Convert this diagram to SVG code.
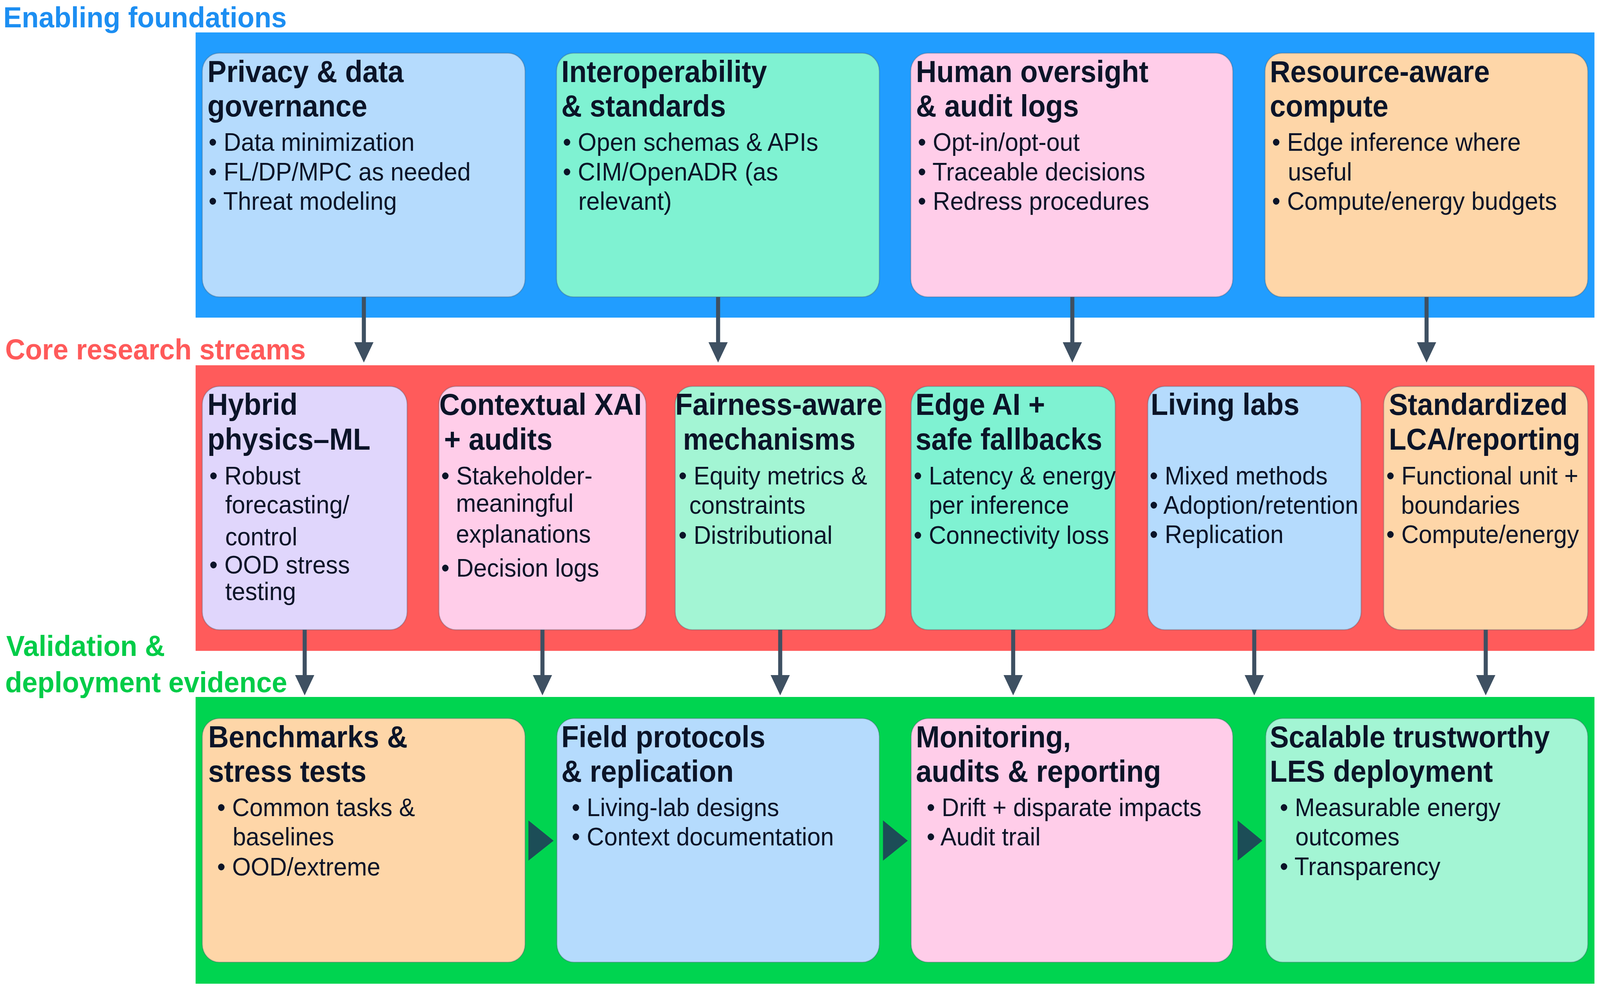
<svg xmlns="http://www.w3.org/2000/svg" width="4327" height="2529" viewBox="0 0 4327 2529">
<style>
.sec{font-family:"Liberation Sans",Arial,sans-serif;font-weight:bold;font-size:75px}
.t{font-family:"Liberation Sans",Arial,sans-serif;font-weight:bold;font-size:77px;fill:#0B1428}
.b{font-family:"Liberation Sans",Arial,sans-serif;font-size:65px;fill:#0B1428}
.box{stroke:#3C5064;stroke-opacity:0.3;stroke-width:3}
.conn{stroke:#3E5062;stroke-width:11;fill:none}
.flow{fill:#1C4D57}
</style>
<defs>
<marker id="ah" markerUnits="userSpaceOnUse" markerWidth="52" markerHeight="52" refX="0" refY="26" orient="auto" viewBox="0 0 52 52">
<path d="M0,0 L52,26 L0,52 z" fill="#3E5062"/>
</marker>
</defs>
<rect width="4327" height="2529" fill="#FFFFFF"/>
<g id="diagram" transform="scale(0.94661,1)">

<g id="bands">
<rect x="529" y="83" width="3783" height="730" fill="#219DFF"/>
<rect x="529" y="935" width="3783" height="731" fill="#FF5B5B"/>
<rect x="529" y="1784" width="3783" height="734" fill="#00D450"/>
</g>

<g id="section-labels">
<text class="sec" x="9" y="70" fill="#1C8EF2">Enabling foundations</text>
<text class="sec" x="14" y="920" fill="#FF5A5A">Core research streams</text>
<text class="sec" x="17" y="1679" fill="#00CC48">Validation &amp;</text>
<text class="sec" x="14" y="1772" fill="#00CC48">deployment evidence</text>
</g>

<g id="node-privacy">
<rect class="box" x="547" y="136" width="873" height="624" rx="46" fill="#B5DBFD"/>
<text class="t" x="561" y="210">Privacy &amp; data</text>
<text class="t" x="561" y="298">governance</text>
<text class="b" x="564" y="386">• Data minimization</text>
<text class="b" x="564" y="462">• FL/DP/MPC as needed</text>
<text class="b" x="564" y="537">• Threat modeling</text>
</g>
<g id="node-interop">
<rect class="box" x="1505" y="136" width="873" height="624" rx="46" fill="#7FF2D2"/>
<text class="t" x="1518" y="210">Interoperability</text>
<text class="t" x="1518" y="298">&amp; standards</text>
<text class="b" x="1522" y="386">• Open schemas &amp; APIs</text>
<text class="b" x="1522" y="462">• CIM/OpenADR (as</text>
<text class="b" x="1564" y="537">relevant)</text>
</g>
<g id="node-oversight">
<rect class="box" x="2463" y="136" width="871" height="624" rx="46" fill="#FFCDE9"/>
<text class="t" x="2477" y="210">Human oversight</text>
<text class="t" x="2477" y="298">&amp; audit logs</text>
<text class="b" x="2482" y="386">• Opt-in/opt-out</text>
<text class="b" x="2482" y="462">• Traceable decisions</text>
<text class="b" x="2482" y="537">• Redress procedures</text>
</g>
<g id="node-compute">
<rect class="box" x="3421" y="136" width="873" height="624" rx="46" fill="#FED6A8"/>
<text class="t" x="3434" y="210">Resource-aware</text>
<text class="t" x="3434" y="298">compute</text>
<text class="b" x="3440" y="386">• Edge inference where</text>
<text class="b" x="3483" y="462">useful</text>
<text class="b" x="3440" y="537">• Compute/energy budgets</text>
</g>

<g id="node-hybrid">
<rect class="box" x="547" y="989" width="554" height="623" rx="46" fill="#E0D6FC"/>
<text class="t" x="561" y="1062">Hybrid</text>
<text class="t" x="561" y="1151">physics–ML</text>
<text class="b" x="566" y="1240">• Robust</text>
<text class="b" x="609" y="1314">forecasting/</text>
<text class="b" x="609" y="1396">control</text>
<text class="b" x="566" y="1468">• OOD stress</text>
<text class="b" x="609" y="1536">testing</text>
</g>
<g id="node-xai">
<rect class="box" x="1187" y="989" width="560" height="623" rx="46" fill="#FFCDE9"/>
<text class="t" x="1188" y="1062">Contextual XAI</text>
<text class="t" x="1201" y="1151">+ audits</text>
<text class="b" x="1193" y="1240">• Stakeholder-</text>
<text class="b" x="1233" y="1310">meaningful</text>
<text class="b" x="1233" y="1389">explanations</text>
<text class="b" x="1193" y="1476">• Decision logs</text>
</g>
<g id="node-fairness">
<rect class="box" x="1826" y="989" width="569" height="623" rx="46" fill="#A3F5D4"/>
<text class="t" x="1826" y="1062">Fairness-aware</text>
<text class="t" x="1847" y="1151">mechanisms</text>
<text class="b" x="1835" y="1240">• Equity metrics &amp;</text>
<text class="b" x="1864" y="1315">constraints</text>
<text class="b" x="1835" y="1392">• Distributional</text>
</g>
<g id="node-edge">
<rect class="box" x="2464" y="989" width="552" height="623" rx="46" fill="#7FF2D2"/>
<text class="t" x="2476" y="1062">Edge AI +</text>
<text class="t" x="2476" y="1151">safe fallbacks</text>
<text class="b" x="2471" y="1240">• Latency &amp; energy</text>
<text class="b" x="2512" y="1315">per inference</text>
<text class="b" x="2471" y="1392">• Connectivity loss</text>
</g>
<g id="node-livinglabs">
<rect class="box" x="3104" y="989" width="577" height="623" rx="46" fill="#B5DBFD"/>
<text class="t" x="3112" y="1062">Living labs</text>
<text class="b" x="3109" y="1240">• Mixed methods</text>
<text class="b" x="3109" y="1315">• Adoption/retention</text>
<text class="b" x="3109" y="1390">• Replication</text>
</g>
<g id="node-lca">
<rect class="box" x="3742" y="989" width="552" height="623" rx="46" fill="#FED6A8"/>
<text class="t" x="3756" y="1062">Standardized</text>
<text class="t" x="3756" y="1151">LCA/reporting</text>
<text class="b" x="3749" y="1240">• Functional unit +</text>
<text class="b" x="3789" y="1315">boundaries</text>
<text class="b" x="3749" y="1390">• Compute/energy</text>
</g>

<g id="node-benchmarks">
<rect class="box" x="547" y="1839" width="873" height="624" rx="46" fill="#FED6A8"/>
<text class="t" x="563" y="1913">Benchmarks &amp;</text>
<text class="t" x="563" y="2001">stress tests</text>
<text class="b" x="587" y="2089">• Common tasks &amp;</text>
<text class="b" x="629" y="2164">baselines</text>
<text class="b" x="587" y="2241">• OOD/extreme</text>
</g>
<g id="node-field">
<rect class="box" x="1506" y="1839" width="872" height="624" rx="46" fill="#B5DBFD"/>
<text class="t" x="1518" y="1913">Field protocols</text>
<text class="t" x="1518" y="2001">&amp; replication</text>
<text class="b" x="1546" y="2089">• Living-lab designs</text>
<text class="b" x="1546" y="2164">• Context documentation</text>
</g>
<g id="node-monitoring">
<rect class="box" x="2464" y="1839" width="870" height="624" rx="46" fill="#FFCDE9"/>
<text class="t" x="2477" y="1913">Monitoring,</text>
<text class="t" x="2477" y="2001">audits &amp; reporting</text>
<text class="b" x="2506" y="2089">• Drift + disparate impacts</text>
<text class="b" x="2506" y="2164">• Audit trail</text>
</g>
<g id="node-deployment">
<rect class="box" x="3423" y="1839" width="871" height="624" rx="46" fill="#A3F5D4"/>
<text class="t" x="3434" y="1913">Scalable trustworthy</text>
<text class="t" x="3434" y="2001">LES deployment</text>
<text class="b" x="3461" y="2089">• Measurable energy</text>
<text class="b" x="3503" y="2164">outcomes</text>
<text class="b" x="3461" y="2240">• Transparency</text>
</g>

<g id="connectors">
<line class="conn" x1="984" y1="760" x2="984" y2="876" marker-end="url(#ah)"/>
<line class="conn" x1="1942" y1="760" x2="1942" y2="876" marker-end="url(#ah)"/>
<line class="conn" x1="2900" y1="760" x2="2900" y2="876" marker-end="url(#ah)"/>
<line class="conn" x1="3858" y1="760" x2="3858" y2="876" marker-end="url(#ah)"/>
<line class="conn" x1="824" y1="1612" x2="824" y2="1728" marker-end="url(#ah)"/>
<line class="conn" x1="1467" y1="1612" x2="1467" y2="1728" marker-end="url(#ah)"/>
<line class="conn" x1="2110" y1="1612" x2="2110" y2="1728" marker-end="url(#ah)"/>
<line class="conn" x1="2740" y1="1612" x2="2740" y2="1728" marker-end="url(#ah)"/>
<line class="conn" x1="3392" y1="1612" x2="3392" y2="1728" marker-end="url(#ah)"/>
<line class="conn" x1="4018" y1="1612" x2="4018" y2="1728" marker-end="url(#ah)"/>
<polygon class="flow" points="1429,2100 1497,2152 1429,2203"/>
<polygon class="flow" points="2388,2100 2455,2152 2388,2203"/>
<polygon class="flow" points="3347,2100 3414,2152 3347,2203"/>
</g>
</g>
</svg>
